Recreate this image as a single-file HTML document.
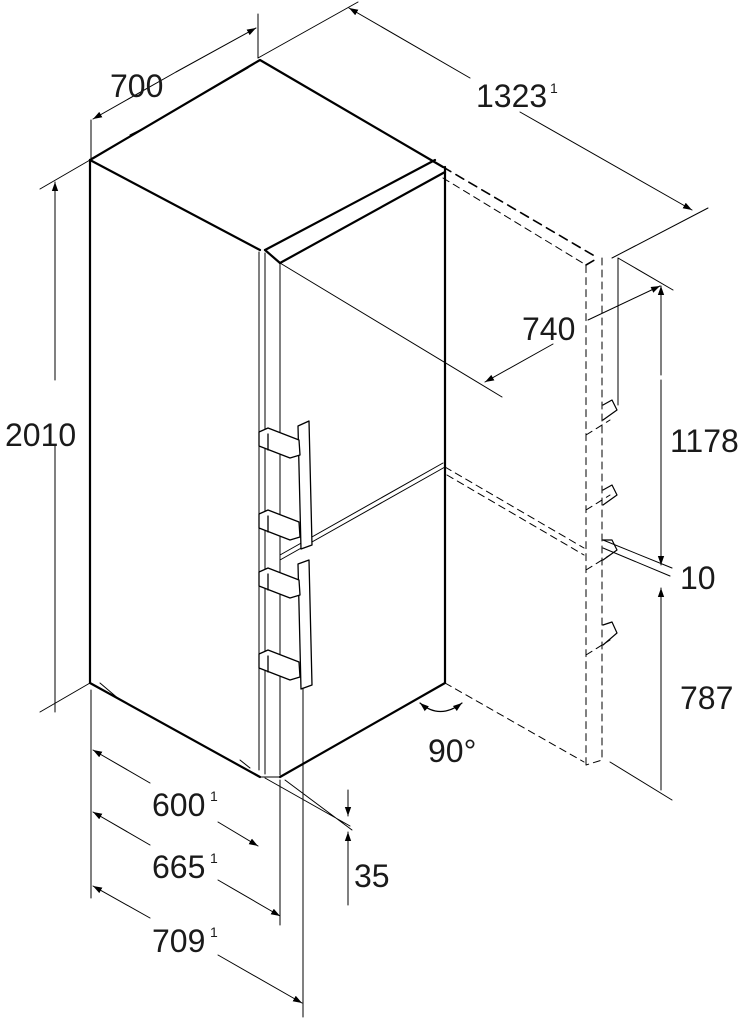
<!DOCTYPE html>
<html><head><meta charset="utf-8"><style>
html,body{margin:0;padding:0;background:#fff}
svg{display:block}
text{font-family:"Liberation Sans",sans-serif;fill:#1a1a1a}
</style></head><body>
<svg width="752" height="1024" viewBox="0 0 752 1024" xmlns="http://www.w3.org/2000/svg">
<defs>
<marker id="a" viewBox="0 0 10 10" refX="10" refY="5" markerWidth="9" markerHeight="9" orient="auto-start-reverse" markerUnits="userSpaceOnUse"><path d="M0,1.5 L10,5 L0,8.5 Z" fill="#000"/></marker>
</defs>
<g fill="none" stroke="#000" stroke-linecap="round" stroke-linejoin="round">
<g stroke-width="2.2">
<path d="M90,160 L260,60 L443,167"/>
<path d="M90,160 L260,250"/>
<path d="M90,160 L90,683 L260,777"/>
<path d="M280,777 L445,683 L445,167"/>
<path d="M265,250 L435,160 M280,263 L445,172"/>
<path d="M265,250 L280,263"/>
</g>
<g stroke-width="1">
<path d="M259,252 L259,770 M265,253 L265,774 M280,263 L280,775 M260,777 L280,777"/>
<path d="M280,560 L445,467 M280,555 L443,463"/>
<path d="M130,135 L150,125 M210,90 L248,68"/>
<path d="M100,683 L120,700 M240,760 L250,768"/>
</g>
<g stroke-width="1.3" fill="#fff">
<path d="M298,426 L309,421 L312,545 L301,549 Z"/>
<path d="M298,564 L309,560 L312,685 L301,689 Z"/>
<path d="M259,432 L268,428 L299,440 L300,455 L290,458 L259,446 Z"/>
<path d="M259,514 L268,510 L299,522 L300,537 L290,540 L259,528 Z"/>
<path d="M259,572 L268,568 L299,580 L300,595 L290,598 L259,586 Z"/>
<path d="M259,654 L268,650 L299,662 L300,677 L290,680 L259,668 Z"/>
<path d="M268,434 L268,450 M268,516 L268,532 M268,574 L268,590 M268,656 L268,672"/>
</g>
<g stroke-width="1.6" stroke-dasharray="9,6">
<path d="M443,167 L598,258"/>
<path d="M586,265 L598,258"/>
</g>
<g stroke-width="1" stroke-dasharray="7,5">
<path d="M443,178 L586,265 L586,765 M602,258 L602,760 L586,765"/>
<path d="M445,467 L584,548 M447,475 L584,555"/>
<path d="M445,683 L584,762"/>
<path d="M586,435 L610,420 M586,510 L610,495 M586,570 L610,555 M586,655 L610,640"/>
</g>
<g stroke-width="1.2">
<path d="M603,405 L612,400 L617,410 L603,420 M603,490 L612,485 L617,495 L603,505 M603,540 L612,540 L617,550 L603,560 M603,625 L612,622 L617,633 L603,645"/>
</g>
<path d="M420,703 Q440,720 462,703" stroke-width="1.2" marker-start="url(#a)" marker-end="url(#a)"/>
<g stroke-width="1">
<path d="M91,120 L91,158 M258,14 L258,58"/>
<path d="M93,119 L176,72" marker-start="url(#a)"/>
<path d="M176,72 L256,28" marker-end="url(#a)"/>
<path d="M258,58 L358,2 M612,258 L708,208"/>
<path d="M349,8 L470,78" marker-start="url(#a)"/>
<path d="M520,112 L692,210" marker-end="url(#a)"/>
<path d="M40,189 L90,160 M40,712 L90,683"/>
<path d="M55,380 L55,182" marker-end="url(#a)"/>
<path d="M55,446 L55,712"/>
<path d="M280,263 L502,397"/>
<path d="M618,258 L618,405 M618,258 L673,290"/>
<path d="M588,320 L660,286" marker-end="url(#a)"/>
<path d="M553,344 L485,382" marker-end="url(#a)"/>
<path d="M661,375 L661,286" marker-end="url(#a)"/>
<path d="M661,380 L661,565" marker-end="url(#a)"/>
<path d="M661,680 L661,588" marker-end="url(#a)"/>
<path d="M661,680 L661,790"/>
<path d="M603,540 L672,568 M603,548 L670,576 M610,762 L672,800"/>
<path d="M91,690 L91,898 M280,780 L280,925 M303,688 L303,1017"/>
<path d="M150,783 L93,750" marker-end="url(#a)"/>
<path d="M218,822 L258,846" marker-end="url(#a)"/>
<path d="M150,845 L93,812" marker-end="url(#a)"/>
<path d="M218,880 L280,916" marker-end="url(#a)"/>
<path d="M150,918 L93,886" marker-end="url(#a)"/>
<path d="M218,955 L302,1003" marker-end="url(#a)"/>
<path d="M265,778 L350,826 M285,780 L352,830"/>
<path d="M348,790 L348,816" marker-end="url(#a)"/>
<path d="M348,905 L348,832" marker-end="url(#a)"/>
</g>
</g>
<g font-size="32">
<text x="110" y="97">700</text>
<text x="476" y="107">1323</text><text x="550" y="93" font-size="14">1</text>
<text x="5" y="446">2010</text>
<text x="522" y="340">740</text>
<text x="670" y="452">1178</text>
<text x="680" y="589">10</text>
<text x="680" y="709">787</text>
<text x="428" y="762">90°</text>
<text x="152" y="816">600</text><text x="210" y="801" font-size="14">1</text>
<text x="152" y="878">665</text><text x="210" y="863" font-size="14">1</text>
<text x="152" y="952">709</text><text x="210" y="937" font-size="14">1</text>
<text x="354" y="887">35</text>
</g>
</svg>
</body></html>
